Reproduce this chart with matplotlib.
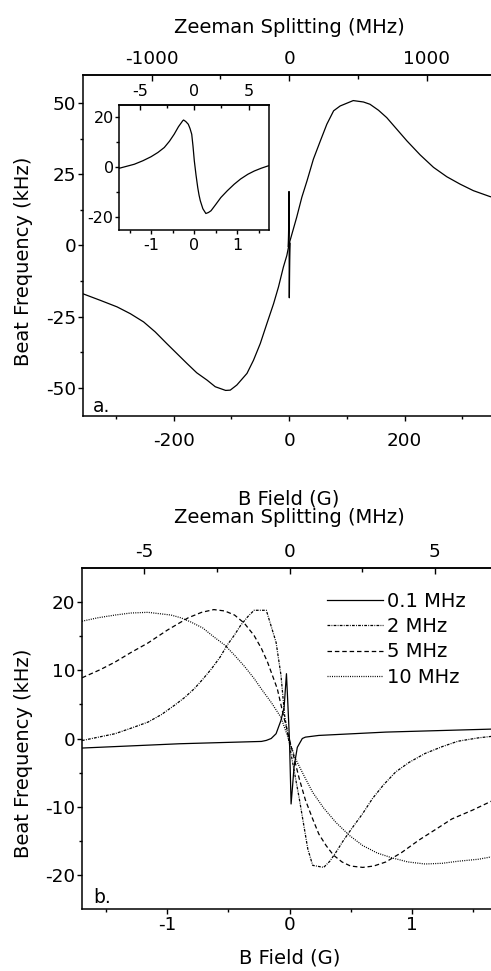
import matplotlib
matplotlib.use("Agg")
import matplotlib.pyplot as plt

plt.rcParams['font.family'] = ['DejaVu Sans']
plt.rcParams['axes.unicode_minus'] = False

# ---------------- data ----------------
# panel a: main curve, B field (G) vs beat frequency (kHz)
main_b = [-357, -327, -298, -275, -252, -232, -212, -194.5, -177, -160, -142, -128,
          -110, -102, -90.6, -73, -61.8, -50, -38.6, -27, -18.5, -10, -4, 0,
          13, 22, 31, 42, 54, 65.3, 77, 88.3, 111, 128.7, 140, 154.7, 169, 186.5,
          204, 226.8, 250, 273, 296, 319, 348, 357]
main_khz = [-17.0, -19.3, -21.6, -24.0, -26.9, -30.4, -34.5, -38.0, -41.5, -44.8,
            -47.4, -49.7, -51.0, -50.9, -49.1, -45.0, -40.4, -34.5, -27.5, -20.5,
            -14.6, -7.6, -3.5, 0.6, 9.9, 17.0, 22.8, 30.4, 36.8, 42.7, 47.4, 49.1,
            51.0, 50.5, 49.7, 47.6, 45.0, 40.9, 36.8, 31.9, 27.5, 24.2, 21.6, 19.3,
            17.2, 16.8]

# panel a inset: low-field curve
inset_b = [-1.75, -1.40, -1.20, -1.01, -0.85, -0.70, -0.58, -0.47, -0.37, -0.27,
           -0.25, -0.20, -0.14, -0.10, -0.06, -0.03, 0.0, 0.04, 0.08, 0.11, 0.14,
           0.20, 0.27, 0.33, 0.39, 0.50, 0.62, 0.77, 0.93, 1.08, 1.25, 1.40, 1.56,
           1.75]
inset_khz = [-0.3, 1.3, 2.7, 4.3, 6.0, 8.0, 10.5, 13.3, 16.3, 18.7, 19.0, 18.4,
             17.3, 15.6, 13.3, 8.5, 2.7, -3.0, -8.0, -11.0, -13.3, -16.5, -18.4,
             -18.0, -17.3, -14.8, -12.0, -9.3, -6.7, -4.6, -2.7, -1.4, -0.3, 0.8]

# panel b: four linewidths
b_01 = [-1.70, -0.90, -0.23, -0.19, -0.15, -0.11, -0.07, -0.044, -0.025, -0.012,
        0.0, 0.013, 0.025, 0.037, 0.064, 0.105, 0.13, 0.24, 0.79, 1.70]
f_01 = [-1.4, -0.77, -0.43, -0.28, 0.0, 0.7, 2.65, 4.6, 9.5, 4.5, -0.3, -9.6,
        -7.0, -4.2, -1.3, 0.0, 0.2, 0.45, 0.94, 1.4]

b_2 = [-1.70, -1.43, -1.30, -1.16, -1.05, -0.94, -0.86, -0.78, -0.71, -0.64, -0.57,
       -0.51, -0.45, -0.40, -0.34, -0.29, -0.19, -0.11, -0.07, -0.04, 0.01, 0.08,
       0.15, 0.19, 0.28, 0.33, 0.38, 0.44, 0.51, 0.60, 0.68, 0.77, 0.87, 0.98,
       1.11, 1.25, 1.38, 1.55, 1.70]
f_2 = [-0.3, 0.7, 1.5, 2.4, 3.5, 4.9, 6.0, 7.3, 8.7, 10.2, 11.9, 13.7, 15.2, 16.6,
       17.9, 18.8, 18.8, 14.1, 9.3, 3.4, -2.0, -8.8, -16.2, -18.6, -18.9, -18.0,
       -16.7, -15.0, -13.2, -11.0, -8.8, -6.8, -4.9, -3.5, -2.2, -1.2, -0.4, 0.1,
       0.4]

b_5 = [-1.70, -1.55, -1.43, -1.30, -1.16, -1.00, -0.83, -0.72, -0.62, -0.53, -0.45,
       -0.37, -0.29, -0.23, -0.18, -0.10, -0.05, 0.08, 0.13, 0.19, 0.24, 0.30,
       0.36, 0.43, 0.50, 0.60, 0.69, 0.79, 0.92, 1.06, 1.20, 1.33, 1.50, 1.70]
f_5 = [8.9, 10.1, 11.2, 12.6, 14.0, 15.9, 17.7, 18.5, 18.9, 18.7, 18.1, 16.9, 15.1,
       13.2, 11.2, 7.3, 3.4, -5.9, -9.0, -11.8, -14.0, -15.7, -17.1, -18.1, -18.7,
       -18.9, -18.7, -18.1, -16.7, -14.9, -13.3, -11.8, -10.5, -8.8]

b_10 = [-1.70, -1.57, -1.43, -1.30, -1.16, -0.97, -0.89, -0.81, -0.71, -0.62, -0.53,
        -0.45, -0.37, -0.29, -0.22, -0.15, -0.07, 0.05, 0.12, 0.19, 0.28, 0.38,
        0.49, 0.60, 0.72, 0.84, 0.97, 1.11, 1.25, 1.38, 1.55, 1.70]
f_10 = [17.2, 17.7, 18.1, 18.4, 18.5, 18.1, 17.7, 17.1, 16.2, 14.9, 13.7, 12.2,
        10.6, 8.8, 7.0, 5.3, 3.1, -3.0, -5.5, -7.9, -10.2, -12.3, -14.2, -15.7,
        -16.8, -17.5, -18.1, -18.4, -18.3, -18.0, -17.7, -17.2]

series_labels = ['0.1 MHz', '2 MHz', '5 MHz', '10 MHz']

MHZ_PER_G = 4.2        # Zeeman splitting per gauss (top axes)
MHZ_PER_G_INSET = 3.95

# ---------------- figure ----------------
W, H = 491, 971
fig = plt.figure(figsize=(W / 100, H / 100), dpi=100)

LW = 0.9
SPW = 1.1
TICK_FS = 13.2
LAB_FS = 14


def style(ax, bottom_pad):
    for s in ax.spines.values():
        s.set_linewidth(SPW)
    ax.tick_params(which='both', direction='out', top=False, right=False,
                   width=1.0, labelsize=TICK_FS)
    ax.tick_params(axis='y', which='major', length=3.6, pad=1.2)
    ax.tick_params(axis='y', which='minor', length=2.2)
    ax.tick_params(axis='x', which='major', length=3.4, pad=bottom_pad)
    ax.tick_params(axis='x', which='minor', length=2.2)


def top_axis(ax, factor, ticks, minor, fs, pad, length=(4.5, 3.2)):
    sec = ax.secondary_xaxis('top', functions=(lambda b: b * factor,
                                               lambda m: m / factor))
    sec.set_xticks(ticks)
    sec.set_xticks(minor, minor=True)
    sec.tick_params(which='both', direction='in', width=1.0, labelsize=fs, pad=pad)
    sec.tick_params(which='major', length=length[0])
    sec.tick_params(which='minor', length=length[1])
    sec.spines['top'].set_linewidth(SPW)
    return sec


# ---- panel a ----
ax1 = fig.add_axes([83 / W, 1 - 416 / H, 412.3 / W, 341 / H])
ax1.plot(main_b, main_khz, color='k', lw=LW)
ax1.plot(inset_b, inset_khz, color='k', lw=LW)
ax1.set_xlim(-357, 357)
ax1.set_ylim(-60, 60)
ax1.set_xticks([-200, 0, 200])
ax1.set_xticks([-300, -100, 100, 300], minor=True)
ax1.set_yticks([-50, -25, 0, 25, 50])
ax1.set_yticks([-37.5, -12.5, 12.5, 37.5], minor=True)
style(ax1, 8.4)
ax1.set_xlabel('B Field (G)', fontsize=LAB_FS, labelpad=28)
ax1.set_ylabel('Beat Frequency (kHz)', fontsize=LAB_FS)
ax1.yaxis.set_label_coords(-0.122, 0.455)
sec1 = top_axis(ax1, MHZ_PER_G, [-1000, 0, 1000], [-500, 500], TICK_FS, 5.3)
sec1.set_xlabel('Zeeman Splitting (MHz)', fontsize=LAB_FS, labelpad=11.8)
ax1.text(10 / 412.3, 4 / 341, 'a.', transform=ax1.transAxes, fontsize=13.5,
         va='baseline', ha='left')

# ---- inset ----
axi = fig.add_axes([119.3 / W, 1 - 230 / H, 150 / W, 125 / H])
axi.plot(inset_b, inset_khz, color='k', lw=LW)
axi.set_xlim(-1.75, 1.75)
axi.set_ylim(-25, 25)
axi.set_xticks([-1, 0, 1])
axi.set_xticks([-1.5, -0.5, 0.5, 1.5], minor=True)
axi.set_yticks([-20, 0, 20])
axi.set_yticks([-10, 10], minor=True)
for s in axi.spines.values():
    s.set_linewidth(SPW)
axi.tick_params(which='both', direction='out', top=False, right=False,
                width=1.0, labelsize=11.5)
axi.tick_params(which='major', length=3.0)
axi.tick_params(which='minor', length=2.0)
axi.tick_params(axis='y', pad=1.0)
axi.tick_params(axis='x', pad=3.0)
top_axis(axi, MHZ_PER_G_INSET, [-5, 0, 5], [-2.5, 2.5], 11.5, 4.0, (3.5, 2.5))

# ---- panel b ----
ax2 = fig.add_axes([82 / W, 1 - 909 / H, 415 / W, 341 / H])
ax2.plot(b_01, f_01, color='k', lw=LW, ls='-', label=series_labels[0])
ax2.plot(b_2, f_2, color='k', lw=LW, ls=(0, (2.2, 1.0, 0.7, 1.0)),
         label=series_labels[1])
ax2.plot(b_5, f_5, color='k', lw=LW, ls=(0, (3.6, 2.3)), label=series_labels[2])
ax2.plot(b_10, f_10, color='k', lw=LW, ls=(0, (0.8, 1.0)), label=series_labels[3])
ax2.set_xlim(-1.7, 1.7)
ax2.set_ylim(-25, 25)
ax2.set_xticks([-1, 0, 1])
ax2.set_xticks([-1.5, -0.5, 0.5, 1.5], minor=True)
ax2.set_yticks([-20, -10, 0, 10, 20])
ax2.set_yticks([-15, -5, 5, 15], minor=True)
style(ax2, 1.5)
ax2.set_xlabel('B Field (G)', fontsize=LAB_FS, labelpad=10.5)
ax2.set_ylabel('Beat Frequency (kHz)', fontsize=LAB_FS)
ax2.yaxis.set_label_coords(-0.118, 0.457)
sec2 = top_axis(ax2, MHZ_PER_G, [-5, 0, 5], [-2.5, 2.5], TICK_FS, 5.3)
sec2.set_xlabel('Zeeman Splitting (MHz)', fontsize=LAB_FS, labelpad=14)
ax2.text(11 / 415, 6 / 341, 'b.', transform=ax2.transAxes, fontsize=13.5,
         va='baseline', ha='left')
ax2.legend(loc='upper left', bbox_to_anchor=(0.5896, 0.931), frameon=False,
           fontsize=14, borderpad=0, borderaxespad=0, handlelength=2.9,
           handletextpad=0.2, labelspacing=0.33)

fig.savefig('out.png', dpi=100)
